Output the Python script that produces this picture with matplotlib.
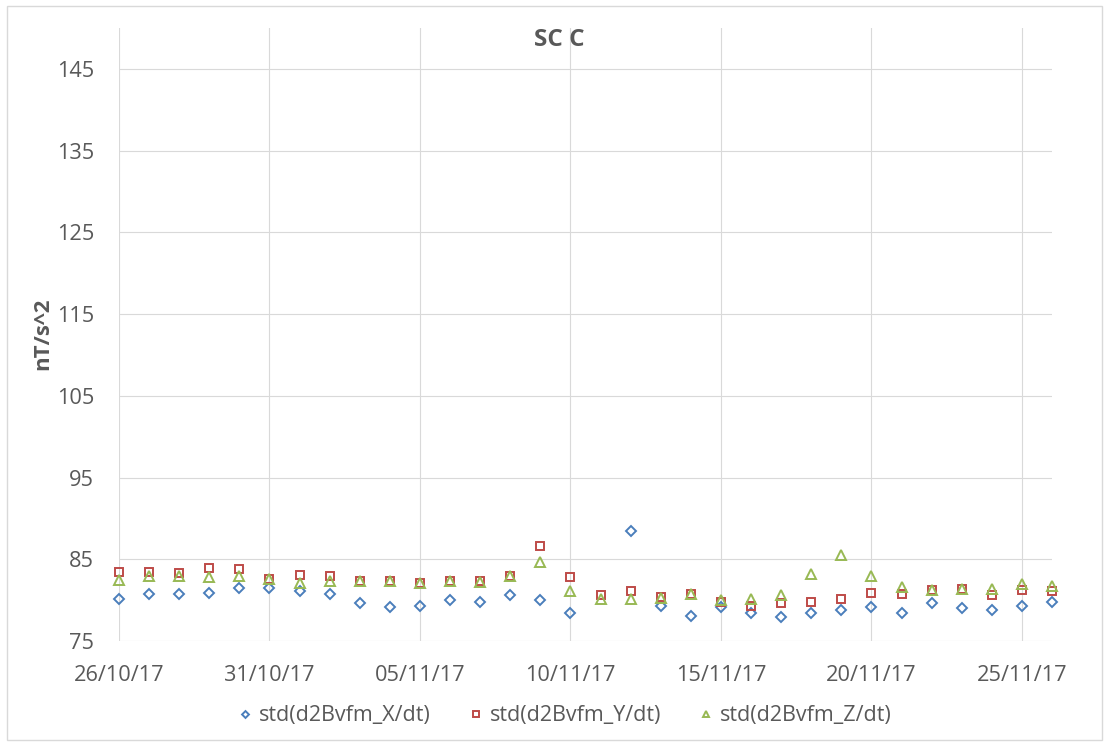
import matplotlib
matplotlib.use('Agg')
import matplotlib.pyplot as plt
import matplotlib.dates as mdates
import numpy as np
import pandas as pd

plt.rcParams['font.family'] = ['Open Sans', 'DejaVu Sans']

# データ
dates = pd.date_range('2017-10-26', '2017-11-26', freq='D')
std_x = [80.1, 80.7, 80.7, 80.9, 81.5, 81.5, 81.1, 80.8, 79.7, 79.2,
         79.3, 80.0, 79.8, 80.6, 80.0, 78.4, np.nan, 88.5, 79.3, 78.0,
         79.2, 78.4, 77.9, 78.4, 78.8, 79.2, 78.4, 79.7, 79.1, 78.8,
         79.3, 79.8]
std_y = [83.4, 83.5, 83.3, 83.9, 83.8, 82.6, 83.1, 83.0, 82.4, 82.3,
         82.1, 82.4, 82.3, 82.9, 86.6, 82.8, 80.6, 81.1, 80.4, 80.8,
         79.8, 79.3, 79.6, 79.8, 80.1, 80.9, 80.7, 81.2, 81.4, 80.6,
         81.3, 81.1]
std_z = [82.5, 83.0, 82.9, 82.8, 82.9, 82.6, 82.1, 82.3, 82.4, 82.3,
         82.1, 82.4, 82.2, 82.9, 84.7, 81.1, 80.1, 80.2, 80.3, 80.8,
         80.0, 80.2, 80.6, 83.2, 85.5, 82.9, 81.6, 81.3, 81.4, 81.4,
         82.0, 81.7]
y_ticks = [75, 85, 95, 105, 115, 125, 135, 145]
x_ticks = pd.date_range('2017-10-26', periods=7, freq='5D')

fig = plt.figure(figsize=(11.06, 7.42), dpi=100)
ax = fig.add_axes([0.1076, 0.1361, 0.8436, 0.8262])

mk = dict(linestyle='none', markerfacecolor='none', markeredgewidth=1.4, clip_on=False)
ax.plot(dates, std_x, marker='D', markersize=5, markeredgecolor='#4A7EBB', label='std(d2Bvfm_X/dt)', **mk)
ax.plot(dates, std_y, marker='s', markersize=6.3, markeredgecolor='#BE4B48', label='std(d2Bvfm_Y/dt)', **mk)
ax.plot(dates, std_z, marker='^', markersize=7, markeredgecolor='#98B954', label='std(d2Bvfm_Z/dt)', **mk)

ax.set_ylim(75, 150)
ax.set_yticks(y_ticks)
ax.set_xlim(dates[0], dates[-1])
ax.set_xticks(x_ticks)
ax.xaxis.set_major_formatter(mdates.DateFormatter('%d/%m/%y'))

ax.grid(True, color='#D9D9D9', linewidth=0.8)
ax.set_axisbelow(True)
for s in ax.spines.values():
    s.set_visible(False)
ax.tick_params(axis='both', length=0, colors='#595959', labelsize=15.7)
ax.tick_params(axis='x', pad=17)
ax.tick_params(axis='y', pad=18)

fig.text(559 / 1106, 1 - 39.5 / 742, 'SC C', fontsize=17.5, fontweight='bold',
         color='#595959', ha='center', va='center')
fig.text(43 / 1106, 1 - 334 / 742, 'nT/s^2', fontsize=16, fontweight='bold',
         color='#595959', rotation=90, ha='center', va='center')

fig.legend(loc='center', bbox_to_anchor=(563 / 1106, 1 - 716 / 742), ncol=3, frameon=False,
           fontsize=15.5, labelcolor='#595959', handletextpad=0.15, columnspacing=1.6,
           markerscale=0.7, handlelength=1.0)

fig.add_artist(plt.Rectangle((0.0065, 0.003), 0.99, 0.989, transform=fig.transFigure,
                             fill=False, edgecolor='#D9D9D9', linewidth=1))

fig.savefig('out.png', dpi=100)
